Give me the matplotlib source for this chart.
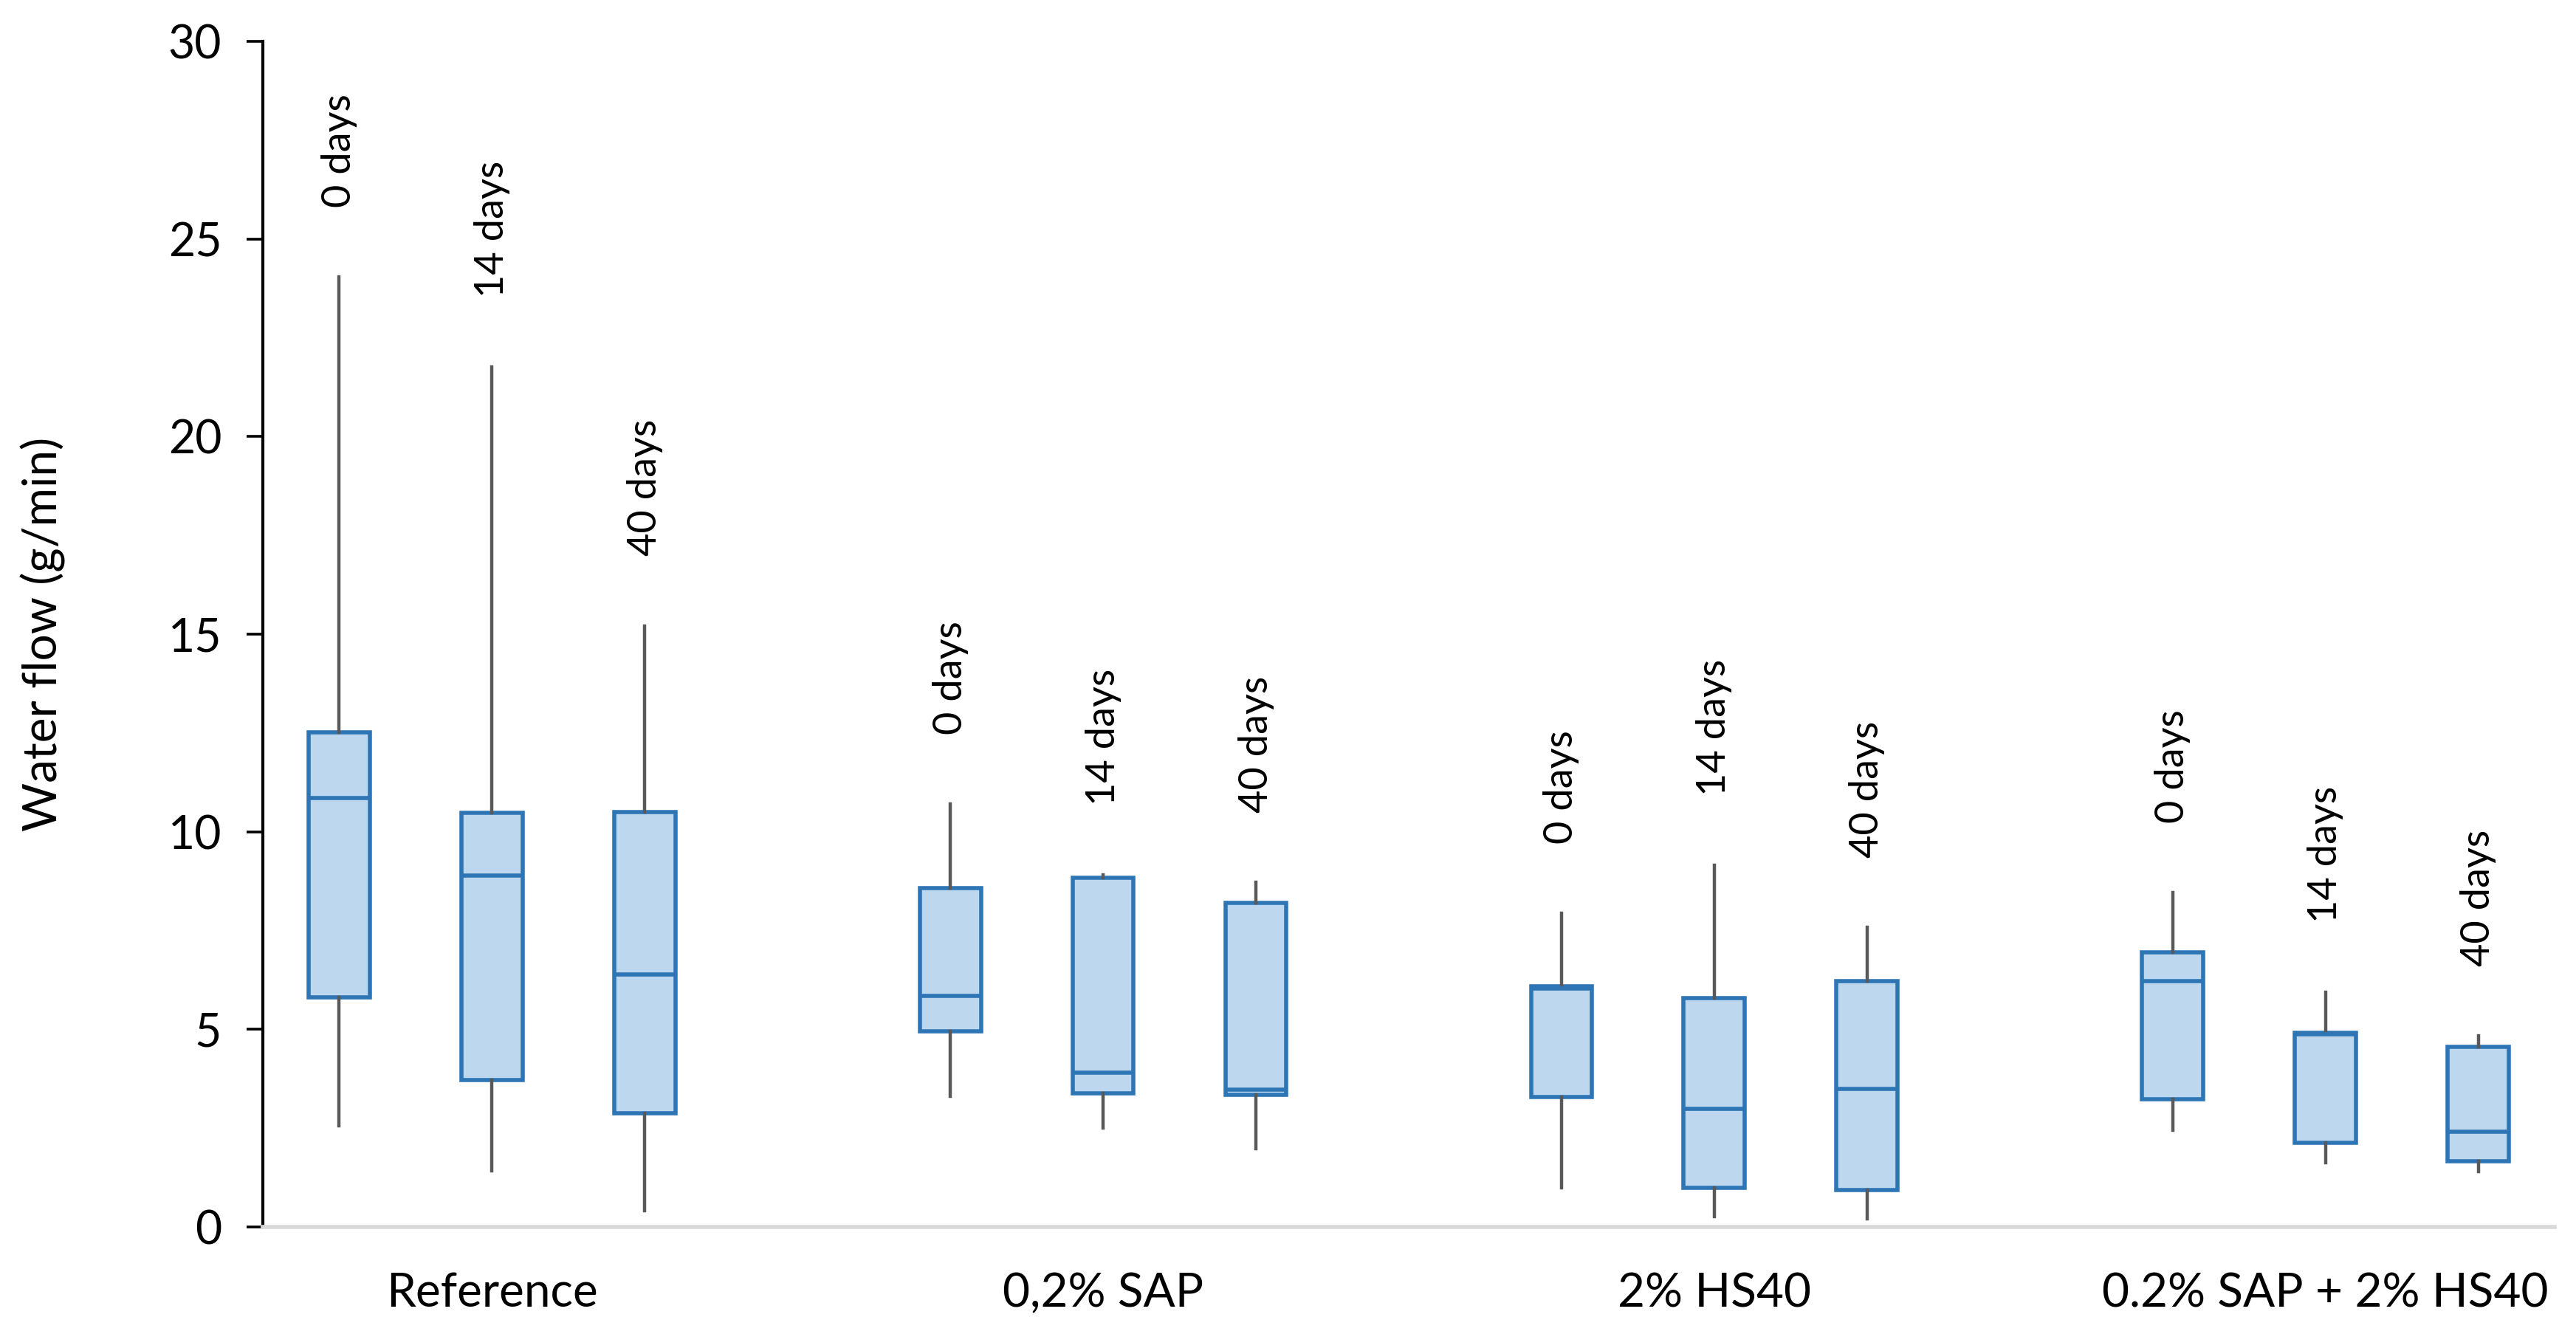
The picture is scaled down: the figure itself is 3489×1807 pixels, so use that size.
import numpy as np
import matplotlib
matplotlib.use("Agg")
import matplotlib.pyplot as plt

plt.rcParams['font.family'] = ['Lato', 'DejaVu Sans']

grupos = ["Reference", "0,2% SAP", "2% HS40", "0.2% SAP + 2% HS40"]
idades = ["0 days", "14 days", "40 days"]

# valores, uma linha por grupo, colunas 0 / 14 / 40 dias
minimo = np.array([[2.56, 1.42, 0.41],
                   [3.31, 2.50, 1.99],
                   [0.99, 0.26, 0.20],
                   [2.45, 1.63, 1.40]])
q1 = np.array([[5.81, 3.72, 2.88],
               [4.95, 3.38, 3.34],
               [3.29, 0.99, 0.93],
               [3.23, 2.13, 1.66]])
mediana = np.array([[10.85, 8.89, 6.39],
                    [5.85, 3.90, 3.48],
                    [6.03, 2.99, 3.50],
                    [6.22, 4.87, 2.41]])
q3 = np.array([[12.52, 10.48, 10.50],
               [8.57, 8.84, 8.20],
               [6.09, 5.79, 6.22],
               [6.95, 4.91, 4.56]])
maximo = np.array([[24.04, 21.76, 15.21],
                   [10.70, 8.91, 8.72],
                   [7.94, 9.15, 7.58],
                   [8.46, 5.94, 4.84]])

azul_borda = '#2E75B6'
azul_fundo = '#BDD7EE'
cinza = '#595959'

fig = plt.figure(figsize=(3489/200, 1807/200), dpi=200)
ax = fig.add_axes([0.102, 0.0802, 0.8897, 0.8888])

stats = []
posicoes = []
for i in range(len(grupos)):
    for j in range(len(idades)):
        stats.append({'whislo': minimo[i, j], 'q1': q1[i, j], 'med': mediana[i, j],
                      'q3': q3[i, j], 'whishi': maximo[i, j], 'fliers': []})
        posicoes.append(4 * i + j)

ax.bxp(stats, positions=posicoes, widths=0.4, patch_artist=True, showcaps=False,
       showfliers=False,
       boxprops=dict(facecolor=azul_fundo, edgecolor=azul_borda, linewidth=2.0),
       medianprops=dict(color=azul_borda, linewidth=2.0),
       whiskerprops=dict(color=cinza, linewidth=1.6))

# rotulos dos dias acima de cada bigode
for k in range(len(stats)):
    ax.annotate(idades[k % 3], (posicoes[k], stats[k]['whishi']),
                xytext=(0, 34), textcoords='offset points',
                rotation=90, ha='center', va='bottom', fontsize=19.5)

ax.set_xlim(-0.5, 14.5)
ax.set_ylim(0, 30)
ax.set_yticks(np.arange(0, 31, 5))
ax.set_xticks([1, 5, 9, 13])
ax.set_xticklabels(grupos, fontsize=23)
ax.tick_params(axis='x', length=0, pad=22)
ax.tick_params(axis='y', labelsize=22.5, length=8, width=1.3, pad=12)

ax.spines['top'].set_visible(False)
ax.spines['right'].set_visible(False)
ax.spines['left'].set_linewidth(1.5)
ax.spines['bottom'].set_color('#D9D9D9')
ax.spines['bottom'].set_linewidth(2.0)

ax.set_ylabel("Water flow (g/min)", fontsize=23)
ax.yaxis.set_label_coords(-0.086, 0.5)

plt.savefig("out.png", dpi=200)
